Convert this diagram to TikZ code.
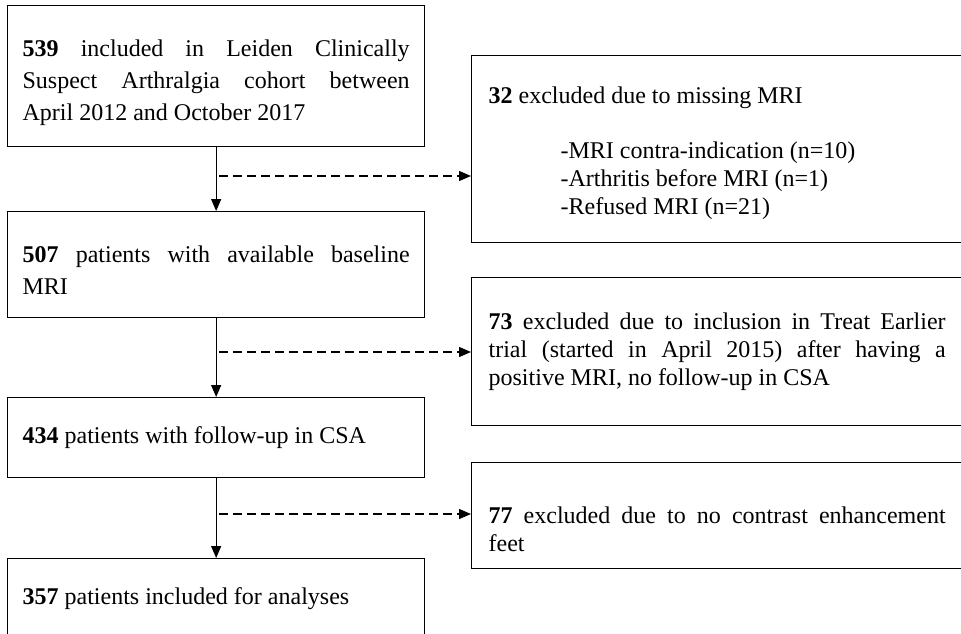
\documentclass[tikz,border=0pt]{standalone}
\usepackage{fontspec}
\setmainfont{Liberation Serif}
\usetikzlibrary{arrows.meta}
\tikzset{
	flowbox/.style={draw, line width=1.3pt, anchor=north west, inner ysep=0pt, align=justify},
	pushdown/.style={execute at begin node={\rule{0pt}{#1}}},
	leftbox/.style={flowbox, inner xsep=15pt, text width=387pt, font=\fontsize{24}{32}\selectfont},
	exbox/.style={flowbox, inner xsep=17pt, text width=457pt, font=\fontsize{24}{27.6}\selectfont},
	mainarrow/.style={line width=1.3pt, -{Triangle[length=12pt,width=10pt]}},
	exarrow/.style={mainarrow, dash pattern=on 9pt off 5pt},
}

\begin{document}
\begin{tikzpicture}[x=1pt, y=-1pt]
	%%%%% START %%%%%
	\useasboundingbox (0,0) rectangle (961,634);
	\clip (0,0) rectangle (961,634);
	
	\node[leftbox, pushdown=29pt, minimum height=141pt] (incl) at (7,5) {\textbf{539} included in Leiden Clinically\linebreak Suspect Arthralgia cohort between\linebreak April 2012 and October 2017};
	\node[leftbox, pushdown=28pt, minimum height=106pt] (mri) at (7,211) {\textbf{507} patients with available baseline\linebreak MRI};
	\node[leftbox, minimum height=80pt] (fup) at (7,397) {\textbf{434} patients with follow-up in CSA};
	\node[leftbox, minimum height=80pt] (anal) at (7,558) {\textbf{357} patients included for analyses};
	
	\node[exbox, pushdown=24.5pt, minimum height=187pt] (exmri) at (471,55) {\textbf{32} excluded due to missing MRI\\
		\mbox{}\\
		\hspace*{72pt}-MRI contra-indication (n=10)\\
		\hspace*{72pt}-Arthritis before MRI (n=1)\\
		\hspace*{72pt}-Refused MRI (n=21)};
	\node[exbox, minimum height=148pt] (extreat) at (471,277) {\textbf{73} excluded due to inclusion in Treat Earlier\linebreak trial (started in April 2015) after having a\linebreak positive MRI, no follow-up in CSA};
	\node[exbox, pushdown=44pt, minimum height=106pt] (excontr) at (471,462) {\textbf{77} excluded due to no contrast enhancement\linebreak feet};
	
	\draw[mainarrow] (incl.south) -- (mri.north);
	\draw[mainarrow] (mri.south) -- (fup.north);
	\draw[mainarrow] (fup.south) -- (anal.north);
	
	\coordinate (d1) at (219,176);
	\coordinate (d2) at (219,352);
	\coordinate (d3) at (219,514);
	\draw[exarrow] (d1) -- (d1 -| exmri.west);
	\draw[exarrow] (d2) -- (d2 -| extreat.west);
	\draw[exarrow] (d3) -- (d3 -| excontr.west);
	%%%%% END %%%%%
\end{tikzpicture}
\end{document}
